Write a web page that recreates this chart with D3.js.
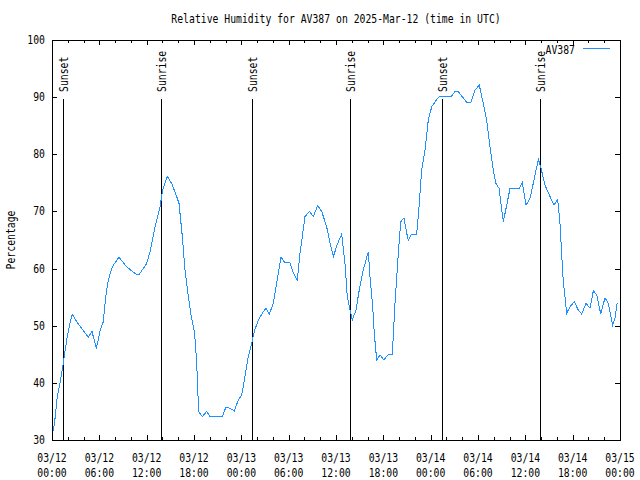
<!DOCTYPE html>
<html>
<head>
<meta charset="utf-8">
<script src="https://cdn.jsdelivr.net/npm/d3@7"></script>
<style>
  html, body { margin: 0; padding: 0; background: #fff; }
  svg { display: block; }
  text { font-family: "DejaVu Sans Mono", "Liberation Mono", monospace; font-size: 12px; fill: #000; }
</style>
</head>
<body>
<svg id="chart" width="640" height="480"></svg>
<script>
// ---- data ----
const chartTitle = "Relative Humidity for AV387 on 2025-Mar-12 (time in UTC)";
const yLabel = "Percentage";
const seriesName = "AV387";
const startUTC = Date.UTC(2025, 2, 12, 0, 0);
const endUTC = Date.UTC(2025, 2, 15, 0, 0);
// hours since 2025-03-12 00:00 UTC
const hours = [0, 0.34, 0.67, 1.01, 1.36, 1.61, 1.94, 2.28, 2.57, 3.13, 3.76, 4.6, 5.07, 5.62, 6.08, 6.5, 6.81, 7.14, 7.64, 8.49,
  9.47, 10.1, 10.65, 11.07, 12.0, 12.42, 13.06, 13.69, 14.03, 14.62, 15.17, 15.81, 16.1, 16.52, 16.86, 17.28, 17.58, 18.0,
  18.19, 18.44, 18.57, 19.05, 19.61, 20.03, 21.59, 22.06, 22.56, 23.11, 23.62, 24.05, 24.46, 24.88, 25.31, 25.64, 26.15,
  26.78, 27.13, 27.55, 28.05, 28.48, 29.03, 29.53, 30.17, 30.59, 31.09, 31.44, 31.73, 32.07, 32.62, 33.12, 33.68, 34.19,
  34.82, 35.24, 35.66, 36.21, 36.72, 37.14, 37.43, 37.77, 38.07, 38.53, 38.95, 39.46, 40.09, 40.31, 40.65, 40.85, 41.16,
  41.58, 42.08, 42.63, 43.14, 43.48, 43.9, 44.2, 44.62, 44.96, 45.17, 45.6, 46.23, 46.56, 46.86, 47.28, 47.7, 48.13,
  48.76, 49.18, 50.67, 51.08, 51.5, 52.57, 53.11, 53.62, 54.16, 54.67, 55.1, 55.52, 55.94, 56.28, 56.66, 56.88, 57.21,
  57.64, 58.06, 59.24, 59.62, 60.09, 60.59, 61.1, 61.65, 61.95, 62.49, 63.13, 63.63, 64.1, 64.39, 64.6, 64.81, 65.02,
  65.24, 65.66, 66.2, 66.71, 67.14, 67.69, 68.2, 68.62, 69.05, 69.56, 70.1, 70.52, 71.07, 71.36, 71.65];
const humidity = [30.5, 33.2, 37.6, 39.9, 42.8, 45.2, 48.1, 50.4, 52, 50.7, 49.5, 48, 49, 46, 49, 50.7, 55.1, 58, 60.3, 62,
  60.3, 59.6, 59.05, 59, 60.9, 62.95, 67.3, 70.8, 73.75, 76.1, 74.9, 72.6, 71.4, 65.6, 59.75, 55.1, 52.2, 49.25,
  47, 40.5, 35, 34.1, 35, 34.1, 34.1, 35.8, 35.5, 35.1, 37, 37.9, 41.1, 44.6, 46.9, 49, 51,
  52.45, 53.05, 52.05, 53.9, 57.4, 62, 61, 61, 59.2, 58, 62.7, 65.6, 69.1, 70, 69.1, 71, 70,
  67.3, 64.4, 62.1, 64.4, 66, 60.9, 55.1, 52.75, 51, 52.75, 56.25, 59.75, 62.95, 58.6, 53.3, 48.7, 44,
  44.9, 44, 45, 45, 53.9, 62.7, 68.2, 68.9, 66.2, 65, 66.05, 66.05, 71.4, 77.25, 80.75, 86, 88.3,
  89.6, 90.2, 90.2, 90.95, 90.95, 89.1, 89.1, 91.25, 92.1, 88.9, 86, 81.3, 77.25, 74.9, 74.05, 71.7, 68.2,
  71.1, 74.05, 74.05, 75, 71.1, 72.3, 75.5, 79.1, 77.8, 74.6, 72.6, 71.1, 72.1, 67.9, 62.7, 57.7, 55.1,
  52.2, 53.3, 54.2, 52.75, 52.05, 53.9, 53.05, 56.1, 55.4, 52.05, 54.9, 53.9, 50.1, 51.3, 54];
const eventHours = [1.43, 13.86, 25.39, 37.81, 49.47, 61.9];
const eventLabels = ["Sunset", "Sunrise", "Sunset", "Sunrise", "Sunset", "Sunrise"];
const yTicks = [30, 40, 50, 60, 70, 80, 90, 100];

// ---- layout ----
const M = { left: 52, right: 620, top: 40, bottom: 440 };
const CW = 5.88; // char advance
const svg = d3.select("#chart");
const toDate = h => new Date(startUTC + h * 3600000);

const x = d3.scaleUtc().domain([new Date(startUTC), new Date(endUTC)]).range([M.left, M.right]);
const y = d3.scaleLinear().domain([30, 100]).range([M.bottom, M.top]);

function addText(str, tx, ty, opts = {}) {
  const len = str.length * CW;
  let sx = tx;
  if (opts.anchor === "middle") sx = tx - len / 2;
  else if (opts.anchor === "end") sx = tx - len;
  const t = svg.append("text")
    .attr("x", sx).attr("y", ty)
    .attr("textLength", len).attr("lengthAdjust", "spacingAndGlyphs")
    .text(str);
  if (opts.rotate) {
    t.attr("y", 0)
      .attr("transform", `translate(${tx},${ty}) rotate(-90)`)
      .attr("x", opts.anchor === "middle" ? -len / 2 : 0);
  }
  return t;
}

// ---- axes (ticks only, inward, mirrored) ----
const majorX = x.ticks(d3.utcHour.every(6));
const minorX = x.ticks(d3.utcHour.every(2)).filter(d => d.getUTCHours() % 6 !== 0);

function styleAxis(g) {
  g.select(".domain").remove();
  g.selectAll("line").attr("stroke", "#000").attr("shape-rendering", "crispEdges");
  g.selectAll("text").remove();
}
svg.append("g").attr("transform", `translate(0,${M.bottom})`)
  .call(d3.axisBottom(x).tickValues(majorX).tickSizeInner(-5).tickSizeOuter(0)).call(styleAxis);
svg.append("g").attr("transform", `translate(0,${M.bottom})`)
  .call(d3.axisBottom(x).tickValues(minorX).tickSizeInner(-3).tickSizeOuter(0)).call(styleAxis);
svg.append("g").attr("transform", `translate(0,${M.top})`)
  .call(d3.axisTop(x).tickValues(majorX).tickSizeInner(-5).tickSizeOuter(0)).call(styleAxis);
svg.append("g").attr("transform", `translate(0,${M.top})`)
  .call(d3.axisTop(x).tickValues(minorX).tickSizeInner(-3).tickSizeOuter(0)).call(styleAxis);
svg.append("g").attr("transform", `translate(${M.left},0)`)
  .call(d3.axisLeft(y).tickValues(yTicks).tickSizeInner(-5).tickSizeOuter(0)).call(styleAxis);
svg.append("g").attr("transform", `translate(${M.right},0)`)
  .call(d3.axisRight(y).tickValues(yTicks).tickSizeInner(-5).tickSizeOuter(0)).call(styleAxis);

// tick labels
const fmtDate = d3.utcFormat("%m/%d");
const fmtTime = d3.utcFormat("%H:%M");
majorX.forEach(d => {
  addText(fmtDate(d), x(d), 462, { anchor: "middle" });
  addText(fmtTime(d), x(d), 477, { anchor: "middle" });
});
yTicks.forEach(v => addText(String(v), 45, y(v) + 4, { anchor: "end" }));

// ---- sunrise / sunset markers ----
eventHours.forEach((h, i) => {
  const ex = Math.round(x(toDate(h))) + 0.5;
  svg.append("line")
    .attr("x1", ex).attr("x2", ex).attr("y1", 99).attr("y2", M.bottom)
    .attr("stroke", "#000").attr("stroke-width", 1).attr("shape-rendering", "crispEdges");
  addText(eventLabels[i], ex + 4.5, 92, { rotate: true });
});

// ---- data line ----
const pts = hours.map((h, i) => ({ t: toDate(h), v: humidity[i] }));
svg.append("path")
  .datum(pts)
  .attr("fill", "none")
  .attr("stroke", "#1e90ff")
  .attr("stroke-width", 1)
  .attr("shape-rendering", "crispEdges")
  .attr("d", d3.line().x(d => x(d.t)).y(d => y(d.v)));

// ---- border ----
svg.append("rect")
  .attr("x", M.left + 0.5).attr("y", M.top + 0.5)
  .attr("width", M.right - M.left).attr("height", M.bottom - M.top)
  .attr("fill", "none").attr("stroke", "#000").attr("shape-rendering", "crispEdges");

// ---- legend ----
addText(seriesName, 575, 54, { anchor: "end" });
svg.append("line")
  .attr("x1", 583).attr("x2", 610).attr("y1", 48.5).attr("y2", 48.5)
  .attr("stroke", "#1e90ff").attr("stroke-width", 1).attr("shape-rendering", "crispEdges");

// ---- titles ----
addText(chartTitle, 336, 23, { anchor: "middle" });
addText(yLabel, 15, 240, { rotate: true, anchor: "middle" });
</script>
</body>
</html>
